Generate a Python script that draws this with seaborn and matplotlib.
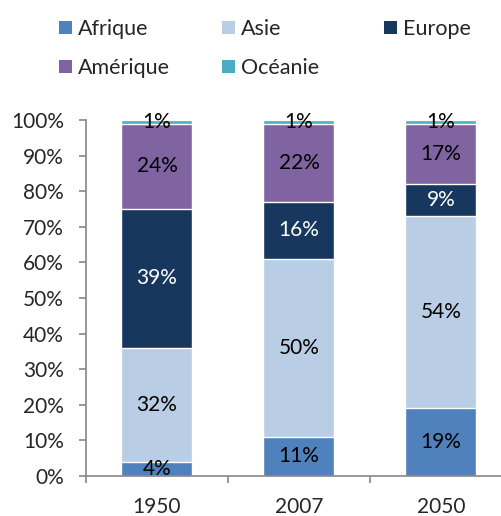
import numpy as np
import pandas as pd
import matplotlib
matplotlib.use("Agg")
import matplotlib.pyplot as plt
import seaborn as sns
from matplotlib.patches import Patch

# =====================================================
# DATA
# =====================================================

years = ["1950", "2007", "2050"]
regions = ["Afrique", "Asie", "Europe", "Amérique", "Océanie"]

afrique = [4, 11, 19]
asie = [32, 50, 54]
europe = [39, 16, 9]
amerique = [24, 22, 17]
oceanie = [1, 1, 1]

colors = ["#4F81BD", "#B9CDE5", "#17375E", "#8064A2", "#4BACC6"]
label_colors = ["black", "black", "white", "black", "black"]

# =====================================================
# STACK
# =====================================================

values = np.array([afrique, asie, europe, amerique, oceanie], dtype=float)
tops = values.cumsum(axis=0)
bottoms = tops - values

sns.set_style("white")
plt.rcParams["font.family"] = ["Lato", "DejaVu Sans"]

fig = plt.figure(figsize=(5.02, 5.16), dpi=100)
ax = fig.add_axes([86 / 502, 40 / 516, 426 / 502, 356 / 516])

# draw from the top series down so each bar covers the one above
for i in reversed(range(len(regions))):
    df = pd.DataFrame({"year": years, "top": tops[i]})
    sns.barplot(
        data=df,
        x="year",
        y="top",
        color=colors[i],
        width=0.5,
        saturation=1,
        ax=ax
    )

# =====================================================
# LABELS
# =====================================================

for i in range(len(regions)):
    for j in range(len(years)):
        ax.text(
            j,
            bottoms[i, j] + values[i, j] / 2,
            f"{values[i, j]:.0f}%",
            ha="center",
            va="center",
            fontsize=15,
            color=label_colors[i]
        )

# =====================================================
# AXES
# =====================================================

ax.set_xlim(-0.5, 2.5)
ax.set_ylim(0, 100)
ax.set_yticks(np.arange(0, 101, 10))
ax.set_yticklabels([f"{t}%" for t in range(0, 101, 10)])
ax.set_xlabel("")
ax.set_ylabel("")

ax.set_xticks([-0.5, 0.5, 1.5, 2.5], minor=True)
ax.tick_params(axis="x", which="major", length=0, pad=15, labelsize=15)
ax.tick_params(axis="x", which="minor", length=5, width=1.2, color="#868686",
               direction="out", bottom=True)
ax.tick_params(axis="y", which="major", length=5, width=1.2, color="#868686",
               direction="out", left=True, pad=11, labelsize=15)

for side in ["top", "right"]:
    ax.spines[side].set_visible(False)
for side in ["left", "bottom"]:
    ax.spines[side].set_color("#868686")
    ax.spines[side].set_linewidth(1.2)

# =====================================================
# LEGEND
# =====================================================

columns = [[0, 3], [1, 4], [2]]
col_x = [59, 222, 384]

for col, x in zip(columns, col_x):
    handles = [Patch(facecolor=colors[k], edgecolor="none") for k in col]
    fig.legend(
        handles,
        [regions[k] for k in col],
        loc="upper left",
        bbox_to_anchor=(x / 502, 1 - 19 / 516),
        frameon=False,
        fontsize=15.5,
        handlelength=0.6,
        handleheight=0.6,
        handletextpad=0.3,
        labelspacing=0.88,
        borderpad=0,
        borderaxespad=0
    )

fig.savefig("out.png", dpi=100)
